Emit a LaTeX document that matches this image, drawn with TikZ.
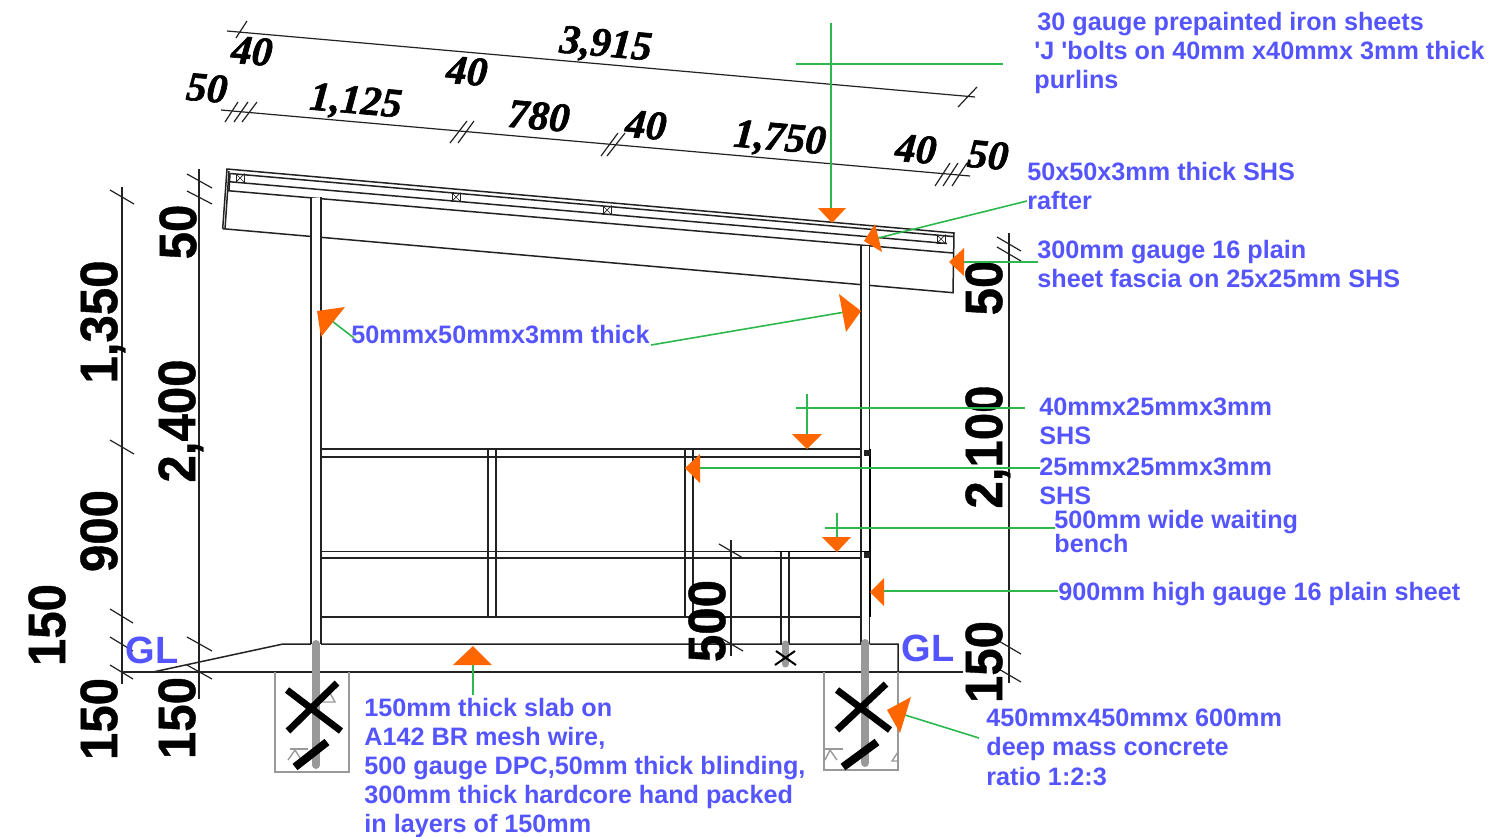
\documentclass[tikz,border=0pt]{standalone}
\usepackage{fontspec}
\setmainfont{Liberation Sans}
\newfontfamily\notefont{Liberation Sans}
\newfontfamily\bigfont{Liberation Sans}[BoldFeatures={FakeBold=0.8}]
\newfontfamily\dimserif{Liberation Serif}[BoldItalicFeatures={FakeBold=1.6}]
\definecolor{noteblue}{HTML}{5555FF}
\definecolor{leadgreen}{HTML}{2DB84D}
\definecolor{headorange}{HTML}{FF6600}
\definecolor{rodgrey}{HTML}{999999}
\definecolor{ink}{HTML}{222222}
\newcommand\blk[2]{\vtop{\baselineskip=#1\lineskiplimit=-20pt\halign{##\hfil\cr #2\cr}}}
\newcommand\bignum[1]{\scalebox{1}[1.07]{\smash{#1}\vphantom{0}}}
\newcommand\sdim[1]{\smash{#1}\vphantom{0}}
\tikzset{
  ln/.style={draw=ink,line width=0.75pt},
  thin ln/.style={draw=ink,line width=0.6pt},
  leader/.style={draw=leadgreen,line width=0.8pt},
  head/.style={fill=headorange,draw=none},
  note/.style={inner sep=0pt,anchor=base west,text=noteblue,font=\notefont\fontsize{12.6}{14}\selectfont\bfseries},
  bigdim/.style={inner sep=0pt,rotate=90,text=black,font=\bigfont\fontsize{24.6}{24.6}\selectfont\bfseries},
  slantdim/.style={inner sep=0pt,rotate=-5,text=black,font=\dimserif\fontsize{20.5}{20.5}\selectfont\bfseries\itshape},
  glabel/.style={inner sep=0pt,text=noteblue,font=\fontsize{19}{19}\selectfont\bfseries},
  purlin/.style={draw=ink,line width=0.5pt,minimum size=4pt,inner sep=0pt},
}
\begin{document}
\begin{tikzpicture}[x=0.5pt,y=-0.5pt]
\useasboundingbox (0,0) rectangle (1500,836);

% ---- top dimension strings
\draw[thin ln] (227,31) -- (975,97);
\draw[thin ln] (236,38) -- (247,21);
\draw[thin ln] (958,107) -- (977,87);
\draw[thin ln] (221,110) -- (970,176);
\foreach \a/\b/\c/\d in {225/122/238/102,234/122/248/102,242/122/257/102,
  450/143/467/121,458/143/474/121,601/156/618/133,607/156/625/133,
  935/186/950/163,943/186/958/163,952/186/967/163}
  \draw[thin ln] (\a,\b) -- (\c,\d);

\node[slantdim] (d3915) at (606,43) {\sdim{3,915}};
\node[slantdim] (dt40a) at (252,51) {\sdim{40}};
\node[slantdim] (dt40b) at (467,71) {\sdim{40}};
\node[slantdim] (dt50a) at (207,88) {\sdim{50}};
\node[slantdim] (d1125) at (356,100) {\sdim{1,125}};
\node[slantdim] (d780)  at (539,116) {\sdim{780}};
\node[slantdim] (dt40c) at (646,125) {\sdim{40}};
\node[slantdim] (d1750) at (780,137) {\sdim{1,750}};
\node[slantdim] (dt40d) at (916,149) {\sdim{40}};
\node[slantdim] (dt50b) at (988,155) {\sdim{50}};

% ---- roof
\draw[ln] (222.7,228.7) -- (227,169) -- (954,233) -- (953,292.7) -- (222.7,228.7);
\draw[ln] (225,229) -- (229,171);
\draw[ln] (230,173.5) -- (953,236.5);
\draw[ln] (229,181.7) -- (947,243.5);
\draw[ln] (228,190.7) -- (953,253);
\draw[ln] (230,173.5) -- (229,190.7);
\foreach \n/\x/\y in {pa/240/178,pb/456/197,pc/607/210,pd/941/239}{
  \node[purlin] (\n) at (\x,\y) {};
  \draw[line width=0.35pt,draw=ink] (\n.north west) -- (\n.south east) (\n.north east) -- (\n.south west);
}

% ---- columns
\path[fill=white] (311.5,198) rectangle (320.5,640);
\path[fill=white] (861.5,246) rectangle (869,640);
\draw[ln] (311,197) -- (311,644) (321,197) -- (321,644);
\draw[ln] (861,245) -- (861,644) (869.5,245) -- (869.5,449);

% ---- rails, posts and bench
\draw[ln] (321,449) -- (861,449) (321,457) -- (861,457);
\draw[ln] (321,551.5) -- (861,551.5) (321,558) -- (861,558);
\draw[ln] (321,617) -- (861,617);
\draw[ln] (488,449) -- (488,617) (496,449) -- (496,617);
\draw[ln] (685,449) -- (685,617) (693,449) -- (693,617);
\draw[ln] (781,552) -- (781,644) (789,552) -- (789,644);
\draw[line width=0.95pt,draw=black] (775,551.5) -- (869,551.5);
\draw[line width=1.05pt,draw=black] (870,449) -- (870,617);
\draw[ln] (869.5,617) -- (869.5,644);
\node[fill=ink,minimum size=3pt,inner sep=0pt] (clipa) at (866.5,452.5) {};
\node[fill=ink,minimum size=3pt,inner sep=0pt] (clipb) at (866.5,555) {};

% ---- slab and ground
\draw[ln] (153,672) -- (283,644) -- (311,644) (321,644) -- (861,644) (869.5,644) -- (898,644) -- (898,672);
\draw[ln] (122,672) -- (963,672);

% ---- footings
\draw[draw=rodgrey,line width=0.7pt] (275,672) -- (275,772) -- (349,772) -- (349,672);
\draw[draw=rodgrey,line width=0.7pt] (824,672) -- (824,770) -- (898,770) -- (898,672);
\draw[draw=rodgrey,line width=0.7pt] (288,760) -- (295,750) -- (300,758)
  (322,702) -- (335,702) -- (330,693);
\draw[draw=rodgrey,line width=1.1pt] (290,749) -- (308,749) (825,749) -- (843,749);
\draw[draw=rodgrey,line width=0.7pt] (825,760) -- (830,750) -- (837,760) (892,761) -- (898,752) -- (898,761) -- cycle;
\draw[draw=rodgrey,line width=4pt,line cap=round] (316,644) -- (316,765);
\draw[draw=rodgrey,line width=4pt,line cap=round] (865,643) -- (865,763);
\draw[draw=rodgrey,line width=3.5pt,line cap=round] (785,644) -- (785,664);
\draw[line width=3.4pt,draw=black] (287,690) -- (341,731) (288,731) -- (337,683);
\draw[line width=4pt,draw=black] (295,767) -- (327,742);
\draw[line width=3.4pt,draw=black] (837,690) -- (890,730) (837,730) -- (886,684);
\draw[line width=4pt,draw=black] (843,767) -- (877,742);
\draw[line width=1pt,draw=black] (775,665) -- (795,651) (776,651) -- (796,665);

% ---- side dimension lines
\draw[thin ln] (122,187) -- (122,684);
\draw[thin ln] (199,169) -- (199,699);
\draw[thin ln] (1009,233) -- (1009,683);
\draw[thin ln] (731,540) -- (731,656);
\foreach \a/\b/\c/\d in {110/190/134/204,110/440/134/454,110/609/133/623,110/637/133/651,110/665/133/679,
  187/174/212/188,187/191/212/204,187/637/212/651,187/665/212/679,
  997/237/1021/251,997/247/1021/261,997/640/1021/654,997/668/1021/682,
  719/544/743/558,719/637/743/651}
  \draw[thin ln] (\a,\b) -- (\c,\d);

\node[bigdim] (s1350) at (99,322) {\bignum{1,350}};
\node[bigdim] (s2400) at (177,421) {\bignum{2,400}};
\node[bigdim] (s50a)  at (178,232) {\bignum{50}};
\node[bigdim] (s900)  at (99,531) {\bignum{900}};
\node[bigdim] (s150a) at (47,625) {\bignum{150}};
\node[bigdim] (s150b) at (99,719) {\bignum{150}};
\node[bigdim] (s150c) at (177,718) {\bignum{150}};
\node[bigdim] (s500)  at (707,621) {\bignum{500}};
\node[bigdim] (s50b)  at (984,288) {\bignum{50}};
\node[bigdim] (s2100) at (984,447) {\bignum{2,100}};
\node[bigdim] (s150d) at (984,662) {\bignum{150}};

\node[glabel] (gll) at (152,650) {GL};
\node[glabel] (glr) at (928,648) {GL};

% ---- leader lines
\coordinate (la1) at (831,23);   \coordinate (la2) at (831,209);
\coordinate (lb1) at (796,64);   \coordinate (lb2) at (1003,64);
\coordinate (lc1) at (1027,201); \coordinate (lc2) at (878,238);
\coordinate (ld1) at (1038,262); \coordinate (ld2) at (962,262);
\coordinate (le1) at (651,345);  \coordinate (le2) at (845,312);
\coordinate (lf1) at (354,338);  \coordinate (lf2) at (332,321);
\coordinate (lg1) at (796,408);  \coordinate (lg2) at (1025,408);
\coordinate (lh1) at (807,394);  \coordinate (lh2) at (807,435);
\coordinate (li1) at (1040,468); \coordinate (li2) at (698,468);
\coordinate (lj1) at (825,528);  \coordinate (lj2) at (1055,528);
\coordinate (lk1) at (837,513);  \coordinate (lk2) at (837,538);
\coordinate (ll1) at (1058,591); \coordinate (ll2) at (883,591);
\coordinate (lm1) at (473,695);  \coordinate (lm2) at (473,664);
\coordinate (ln1) at (979,738);  \coordinate (ln2) at (905,715);
\foreach \p/\q in {la1/la2,lb1/lb2,lc1/lc2,ld1/ld2,le1/le2,lf1/lf2,lg1/lg2,lh1/lh2,li1/li2,lj1/lj2,lk1/lk2,ll1/ll2,lm1/lm2,ln1/ln2}
  \draw[leader] (\p) -- (\q);

% ---- arrowheads
\fill[head] (818,208) -- (846,208) -- (832,223) -- cycle;
\fill[head] (875,224) -- (864,241) -- (882,252) -- cycle;
\fill[head] (964,248) -- (949,262) -- (964,276) -- cycle;
\fill[head] (839,294) -- (861,311) -- (846,332) -- cycle;
\fill[head] (345,307) -- (317,311) -- (321,337) -- cycle;
\fill[head] (792,434) -- (822,434) -- (807,449) -- cycle;
\fill[head] (700,454) -- (685,468) -- (700,483) -- cycle;
\fill[head] (822,537) -- (851,537) -- (837,552) -- cycle;
\fill[head] (884,578) -- (870,592) -- (884,606) -- cycle;
\fill[head] (453,665) -- (492,665) -- (473,646) -- cycle;
\fill[head] (911,697) -- (887,710) -- (900,733) -- cycle;

% ---- notes
\node[note] (na) at (1034,30) {\blk{14.5pt}{\hspace{1.5pt}30 gauge prepainted iron sheets\cr 'J 'bolts on 40mm x40mmx 3mm thick\cr purlins}};
\node[note] (nb) at (1027,180) {\blk{14.5pt}{50x50x3mm thick SHS\cr rafter}};
\node[note] (nc) at (1037,258) {\blk{14.5pt}{300mm gauge 16 plain\cr sheet fascia on 25x25mm SHS}};
\node[note] (nd) at (351,343) {50mmx50mmx3mm thick};
\node[note] (ne) at (1039,415) {\blk{14.75pt}{40mmx25mmx3mm\cr SHS}};
\node[note] (nf) at (1039,475) {\blk{14.5pt}{25mmx25mmx3mm\cr SHS}};
\node[note] (ng) at (1054,528) {\blk{12pt}{500mm wide waiting\cr bench}};
\node[note] (nh) at (1058,600) {900mm high gauge 16 plain sheet};
\node[note] (ni) at (364,716) {\blk{14.6pt}{150mm thick slab on\cr A142 BR mesh wire,\cr 500 gauge DPC,50mm thick blinding,\cr 300mm thick hardcore hand packed\cr in layers of 150mm}};
\node[note] (nj) at (986,726) {\blk{14.75pt}{450mmx450mmx 600mm\cr deep mass concrete\cr ratio 1:2:3}};
\end{tikzpicture}
\end{document}
